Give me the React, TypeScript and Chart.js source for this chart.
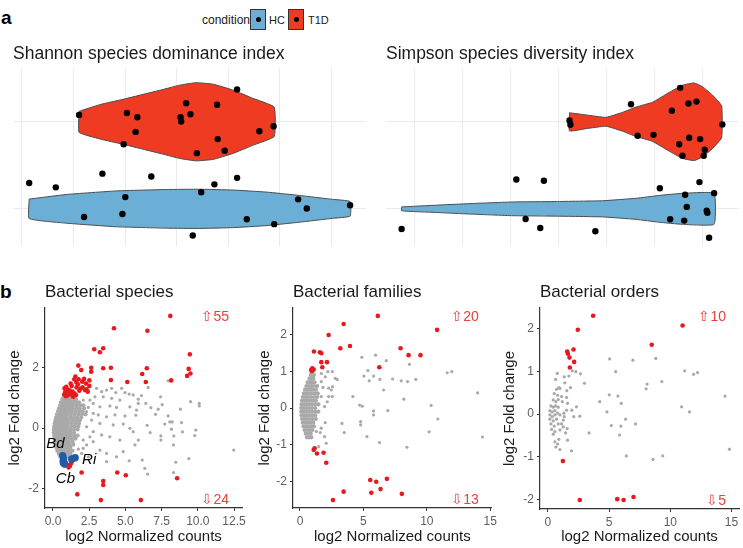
import React, { useEffect, useRef } from 'react';
import { Chart, registerables } from 'chart.js';

Chart.register(...registerables);

const FONT = "'Liberation Sans', Arial, Helvetica, sans-serif";
const TXT = '#1A1A1A';
const TICK = '#5E5E5E';
const VRED = '#EE3B22';
const VBLUE = '#6BAED6';
const PRED = '#E8191E';
const PGRAY = '#A9A9A9';
const PBLUE = '#1F5CA8';
const ANNOT = '#E8413C';

// ---------- panel a : legend / categories ----------
const conditions = ['HC', 'T1D'];
const conditionLevels = [1, 2];

// ---------- Shannon ----------
const shannonGrid = [1, 1.25, 1.5, 1.75, 2, 2.25, 2.5];
const shannonT1DViolinX = [1.277, 1.377, 1.49, 1.587, 1.683, 1.764, 1.845, 1.925, 2.022, 2.119, 2.223];
const shannonT1DViolinHalf = [0.121, 0.197, 0.258, 0.315, 0.371, 0.421, 0.449, 0.433, 0.365, 0.27, 0.169];
const shannonHCViolinX = [1.035, 1.216, 1.458, 1.7, 1.861, 2.022, 2.183, 2.344, 2.505, 2.591];
const shannonHCViolinHalf = [0.112, 0.165, 0.206, 0.222, 0.225, 0.216, 0.193, 0.154, 0.109, 0.084];
const shannonT1DPoints = [
  [2.043, 2.371], [1.796, 2.213], [1.946, 2.195], [1.277, 2.079], [1.509, 2.101], [1.559, 2.052],
  [1.817, 2.086], [1.769, 2.052], [1.772, 2.004], [1.551, 1.884], [2.22, 1.948], [2.151, 1.891],
  [1.949, 1.801], [1.493, 1.742], [1.848, 1.64], [1.983, 1.667],
];
const shannonHCPoints = [
  [1.035, 1.296], [1.164, 1.247], [1.39, 1.404], [1.627, 1.371], [1.933, 1.281], [2.043, 1.356],
  [1.869, 1.191], [1.501, 1.135], [2.339, 1.109], [2.381, 1.004], [2.591, 1.041], [1.301, 0.906],
  [1.487, 0.94], [2.09, 0.88], [2.223, 0.824], [1.828, 0.693],
];

// ---------- Simpson ----------
const simpsonGrid = [0.6, 0.65, 0.7, 0.75, 0.8, 0.85, 0.9];
const simpsonT1DViolinX = [0.7613, 0.7786, 0.7994, 0.8168, 0.8307, 0.848, 0.8653, 0.8792, 0.8914, 0.9, 0.9104, 0.9201];
const simpsonT1DViolinHalf = [0.104, 0.079, 0.051, 0.109, 0.169, 0.225, 0.337, 0.421, 0.446, 0.404, 0.309, 0.183];
const simpsonHCViolinX = [0.5861, 0.6225, 0.6572, 0.7023, 0.7474, 0.796, 0.8307, 0.8549, 0.8792, 0.9122];
const simpsonHCViolinHalf = [0.022, 0.042, 0.06, 0.079, 0.084, 0.093, 0.121, 0.154, 0.178, 0.178];
const simpsonT1DPoints = [
  [0.8768, 2.39], [0.8255, 2.202], [0.8855, 2.21], [0.8938, 2.232], [0.8681, 2.127], [0.7613, 2.015],
  [0.7623, 1.966], [0.9208, 1.97], [0.8324, 1.839], [0.849, 1.85], [0.8862, 1.816], [0.8976, 1.801],
  [0.8758, 1.742], [0.9025, 1.678], [0.8792, 1.61], [0.9014, 1.61],
];
const simpsonHCPoints = [
  [0.7058, 1.337], [0.7346, 1.322], [0.8556, 1.236], [0.8969, 1.307], [0.882, 1.161], [0.9122, 1.18],
  [0.8837, 1.022], [0.9045, 0.978], [0.9052, 0.955], [0.8664, 0.88], [0.881, 0.865], [0.7155, 0.884],
  [0.7308, 0.779], [0.7883, 0.742], [0.5861, 0.768], [0.907, 0.667],
];

// ---------- panel b : species ----------
const speciesXTicks = [0, 2.5, 5, 7.5, 10, 12.5];
const speciesXTickLabels = ['0.0', '2.5', '5.0', '7.5', '10.0', '12.5'];
const speciesYTicks = [-2, 0, 2];
const speciesYTickLabels = ['-2', '0', '2'];
const speciesRedUp = [
  [8.1, 3.7], [4.21, 3.29], [6.52, 3.21], [2.85, 2.6], [3.24, 2.5], [3.47, 2.63], [9.45, 2.43], [1.75, 2.06],
  [1.95, 1.91], [2.64, 1.99], [2.64, 1.86], [3.47, 1.97], [4.0, 1.99], [4.0, 1.58], [5.13, 1.52], [6.48, 1.97],
  [9.37, 1.95], [9.49, 1.8], [9.26, 1.72], [6.16, 1.78], [6.41, 1.52], [8.16, 1.57], [1.47, 1.61], [1.77, 1.61],
  [2.02, 1.53], [2.51, 1.57], [0.8, 1.31], [0.99, 1.28], [1.29, 1.39], [1.63, 1.34], [2.05, 1.34], [2.21, 1.25],
  [2.51, 1.39], [0.85, 1.2], [1.08, 1.17], [1.49, 1.14], [1.82, 1.23], [2.32, 1.28], [0.78, 1.11], [1.4, 1.03],
  [1.59, 1.09], [0.92, 1.36], [1.15, 1.24], [1.35, 1.2], [1.72, 1.44], [2.28, 1.47], [1.02, 1.08], [1.22, 1.47],
  [1.9, 1.3], [2.4, 1.2], [1.6, 1.52], [0.9, 1.05], [1.3, 1.1], [2.15, 1.62], [1.55, 1.7],
];
const speciesRedDown = [
  [1.24, -1.17], [1.17, -1.25], [1.33, -1.06], [1.08, -1.3], [1.98, -1.47], [4.44, -1.47], [5.03, -1.56],
  [3.47, -1.75], [3.47, -1.88], [1.68, -2.19], [3.31, -2.38], [8.57, -1.66], [6.07, -2.38], [0.7, -1.0],
  [0.75, -1.12], [0.8, -1.2], [1.45, -1.02], [1.3, -1.1], [0.68, -0.95], [0.9, -1.15], [1.5, -0.98],
  [0.72, -1.18], [1.38, -1.05], [1.0, -1.22],
];
const speciesBlue = [
  [0.67, -0.91], [0.74, -1.02], [0.71, -1.15], [0.8, -1.2], [0.7, -1.08], [1.4, -1.0], [1.54, -0.98], [1.29, -1.03],
];
const speciesGray = [
  [6.57, 1.34], [7.95, 1.56], [6.11, 1.07], [7.43, 1.03], [5.89, 0.81], [6.41, 0.81], [6.76, 0.67], [7.26, 0.62],
  [7.54, 0.77], [8.8, 0.62], [9.5, 0.87], [10.1, 0.81], [10.1, 0.73], [5.72, 0.42], [7.08, 0.45], [7.95, 0.4],
  [6.5, 0.09], [7.72, 0.13], [8.07, 0.2], [8.23, 0.2], [8.18, -0.04], [8.87, 0.18], [6.71, -0.15], [7.45, -0.26],
  [7.45, -0.4], [8.34, -0.26], [8.94, -0.13], [9.86, -0.07], [9.79, -0.25], [5.66, -0.56], [8.32, -0.56],
  [12.48, -0.73], [6.16, -1.06], [8.48, -1.13], [9.38, -1.01], [6.34, -1.33], [6.53, -1.52], [8.32, -1.47],
  [3.01, 1.31], [3.36, 1.2], [3.7, 1.25], [4.05, 1.31], [4.74, 1.31], [4.34, 1.17], [4.97, 1.17], [5.26, 1.12],
  [5.54, 1.09], [2.9, 1.03], [3.47, 1.03], [4.05, 0.98], [4.62, 0.92], [5.89, 0.95], [2.55, 0.92], [2.09, 0.92],
  [2.78, 0.81], [3.24, 0.7], [3.93, 0.73], [4.39, 0.68], [5.31, 0.7], [5.77, 0.59], [2.44, 0.68], [2.32, 0.54],
  [2.78, 0.48], [3.13, 0.43], [3.7, 0.37], [4.28, 0.43], [4.97, 0.4], [2.67, 0.26], [3.24, 0.15], [4.16, 0.1],
  [4.85, 0.13], [2.32, 0.04], [2.78, -0.12], [5.31, -0.01], [3.36, -0.23], [3.93, -0.29], [2.55, -0.29],
  [2.09, -0.4], [2.32, -0.56], [2.78, -0.45], [4.62, -0.4], [5.54, -0.12], [5.89, -0.4], [2.09, -0.67],
  [3.24, -0.73], [3.7, -0.84], [4.39, -0.95], [4.85, -0.78], [5.26, -1.08], [2.44, -0.95], [3.7, -1.11],
  [1.98, -0.84], [1.75, -0.7],
];
const speciesCloudY = [1.15, 1.05, 0.95, 0.85, 0.75, 0.65, 0.55, 0.45, 0.35, 0.25, 0.15, 0.05, -0.05, -0.15, -0.25, -0.35, -0.45, -0.55, -0.65, -0.75, -0.85, -0.95];
const speciesCloudX = [
  [0.85, 1.0, 1.15],
  [0.75, 0.9, 1.05, 1.2, 1.35],
  [0.65, 0.8, 0.95, 1.1, 1.25, 1.45, 1.6],
  [0.55, 0.7, 0.85, 1.0, 1.2, 1.4, 1.6, 1.8],
  [0.5, 0.65, 0.8, 1.0, 1.2, 1.4, 1.65, 1.9, 2.1],
  [0.42, 0.58, 0.75, 0.95, 1.15, 1.35, 1.6, 1.85, 2.15],
  [0.35, 0.5, 0.68, 0.88, 1.1, 1.3, 1.55, 1.8, 2.05],
  [0.28, 0.45, 0.62, 0.82, 1.02, 1.25, 1.5, 1.75, 2.0, 2.25],
  [0.22, 0.38, 0.55, 0.75, 0.95, 1.2, 1.45, 1.7, 1.95],
  [0.17, 0.32, 0.5, 0.7, 0.9, 1.1, 1.35, 1.6, 1.85],
  [0.12, 0.28, 0.45, 0.65, 0.85, 1.05, 1.3, 1.55, 1.8],
  [0.08, 0.25, 0.42, 0.6, 0.8, 1.0, 1.25, 1.5, 1.75],
  [0.06, 0.22, 0.4, 0.58, 0.78, 0.98, 1.2, 1.45, 1.7],
  [0.06, 0.22, 0.4, 0.58, 0.78, 1.0, 1.22, 1.45],
  [0.08, 0.25, 0.42, 0.6, 0.8, 1.0, 1.2, 1.45, 1.7],
  [0.1, 0.28, 0.45, 0.65, 0.85, 1.05, 1.3, 1.55],
  [0.14, 0.3, 0.5, 0.7, 0.9, 1.1, 1.35],
  [0.18, 0.35, 0.55, 0.75, 0.95, 1.15, 1.4],
  [0.24, 0.42, 0.6, 0.8, 1.0, 1.2],
  [0.3, 0.5, 0.7, 0.9, 1.1, 1.35],
  [0.4, 0.58, 0.78, 0.98, 1.2],
  [0.5, 0.7, 0.9, 1.1],
];
const speciesLabelText = ['Bd', 'Cb', 'Ri'];
const speciesLabelX = [0.17, 0.86, 2.5];
const speciesLabelY = [-0.53, -1.68, -1.06];

// ---------- panel b : families ----------
const familyXTicks = [0, 5, 10, 15];
const familyXTickLabels = ['0', '5', '10', '15'];
const familyYTicks = [-2, -1, 0, 1, 2];
const familyYTickLabels = ['-2', '-1', '0', '1', '2'];
const familyRed = [
  [6.14, 2.51], [3.44, 2.29], [2.26, 1.99], [3.18, 1.63], [3.94, 1.69], [1.1, 1.54], [1.57, 1.52], [1.68, 1.49],
  [1.68, 1.25], [2.13, 1.25], [1.76, 1.11], [0.97, 1.08], [1.08, 1.05], [0.89, 1.04], [0.94, 1.01], [6.25, 1.11],
  [10.81, 2.13], [7.93, 1.63], [8.56, 1.44], [9.5, 1.44],
  [1.15, -1.1], [1.08, -1.14], [1.34, -1.24], [1.86, -1.22], [2.07, -1.49], [2.6, -2.51], [3.44, -2.28],
  [5.54, -1.96], [6.01, -2.01], [6.85, -1.93], [5.62, -2.31], [6.35, -2.21], [8.03, -2.34],
];
const familyGray = [
  [8.63, 1.19], [11.6, 0.96], [11.97, 0.99], [7.3, 0.79], [7.98, 0.74], [8.48, 0.72], [9.13, 0.78], [14.0, 0.41],
  [8.19, 0.24], [10.34, 0.07], [6.93, -0.07], [10.87, -0.3], [10.18, -0.65], [14.38, -0.79], [8.43, -1.07],
  [5.96, 1.44], [4.88, 1.38], [6.8, 1.29], [5.35, 1.02], [5.04, 0.87], [5.8, 0.87], [5.46, 0.74], [6.3, 0.78],
  [6.59, 0.49], [4.17, 0.31], [4.7, 0.08], [4.91, 0.05], [5.8, -0.08], [5.8, -0.19], [4.78, -0.37], [4.78, -0.46],
  [3.31, -0.42], [3.49, -0.67], [5.28, -0.78], [6.27, -0.94], [2.55, 0.99], [2.78, 0.81], [2.94, 0.78],
  [2.57, 0.58], [2.26, 0.54], [2.26, 0.31], [2.55, 0.31], [1.68, 0.72], [1.99, 0.85], [2.2, 0.99], [1.68, 0.94],
  [2.15, 0.17], [1.94, 0.04], [1.68, 0.31], [1.99, -0.4], [1.68, -0.55], [1.6, -0.67], [1.94, -0.78],
  [2.07, -0.96], [1.47, -1.05], [1.29, -0.64], [2.47, 0.49], [1.81, 0.56],
];
const familyCloudY = [1.0, 0.9, 0.8, 0.7, 0.6, 0.5, 0.4, 0.3, 0.2, 0.1, 0.0, -0.1, -0.2, -0.3, -0.4, -0.5, -0.6, -0.7, -0.8];
const familyCloudX = [
  [0.9, 1.0],
  [0.85, 0.98, 1.1],
  [0.75, 0.9, 1.05],
  [0.6, 0.78, 0.95, 1.15],
  [0.5, 0.7, 0.9, 1.1, 1.35],
  [0.4, 0.6, 0.8, 1.0, 1.25],
  [0.3, 0.5, 0.7, 0.9, 1.15, 1.4],
  [0.22, 0.42, 0.62, 0.85, 1.1, 1.35],
  [0.16, 0.36, 0.56, 0.78, 1.0, 1.25],
  [0.12, 0.32, 0.52, 0.74, 0.96, 1.2, 1.45],
  [0.1, 0.3, 0.5, 0.72, 0.95, 1.2],
  [0.1, 0.3, 0.5, 0.72, 0.95, 1.2, 1.45],
  [0.12, 0.32, 0.52, 0.74, 0.96, 1.2],
  [0.16, 0.36, 0.56, 0.78, 1.0, 1.25],
  [0.22, 0.42, 0.62, 0.84, 1.05],
  [0.28, 0.48, 0.68, 0.9, 1.1],
  [0.36, 0.56, 0.76, 0.98],
  [0.45, 0.65, 0.85],
  [0.55, 0.72, 0.9],
];

// ---------- panel b : orders ----------
const orderXTicks = [0, 5, 10, 15];
const orderXTickLabels = ['0', '5', '10', '15'];
const orderYTicks = [-2, -1, 0, 1, 2];
const orderYTickLabels = ['-2', '-1', '0', '1', '2'];
const orderRed = [
  [3.69, 2.3], [2.44, 1.97], [2.09, 1.51], [1.57, 1.46], [1.63, 1.41], [1.76, 1.32], [2.14, 1.22], [1.79, 1.09],
  [11.0, 2.07], [8.48, 1.62],
  [1.22, -1.1], [2.6, -2.01], [5.66, -1.99], [6.18, -2.01], [6.99, -1.94],
];
const orderGray = [
  [6.94, 1.26], [8.81, 1.3], [11.17, 1.01], [11.9, 0.93], [12.22, 0.97], [8.1, 0.7], [8.02, 0.59], [9.3, 0.76],
  [14.47, 0.42], [10.92, 0.17], [11.57, 0.05], [7.15, -0.23], [14.83, -0.82], [9.38, -0.98], [8.59, -1.06],
  [5.04, 1.29], [5.53, 0.99], [4.23, 0.29], [5.01, 0.45], [5.72, 0.42], [5.99, 0.25], [4.82, 0.05], [5.18, -0.27],
  [5.96, -0.28], [6.34, -0.12], [5.85, -0.49], [6.4, -0.98], [3.36, -0.44], [2.98, 0.72], [2.66, 0.94],
  [2.28, 0.99], [2.33, 0.17], [2.6, -0.05], [2.11, -0.06], [1.95, 0.09], [1.57, -0.34], [1.6, -0.61],
  [1.92, -0.86], [1.54, 0.55], [1.52, 0.39], [1.84, 0.62], [1.38, 0.73], [1.33, 0.87], [1.71, 0.89], [1.98, 1.01],
  [1.3, 0.02], [1.25, -0.14], [1.11, -0.23],
  [0.76, 0.95], [0.62, 0.81], [0.89, 0.62], [0.7, 0.58], [0.98, 0.6], [0.51, 0.48], [0.79, 0.44], [1.11, 0.41],
  [0.43, 0.33], [0.65, 0.29], [0.84, 0.34], [1.17, 0.29], [0.24, 0.19], [0.43, 0.16], [0.62, 0.19], [0.84, 0.16],
  [0.16, 0.08], [0.35, 0.05], [0.57, 0.08], [0.79, 0.02], [0.16, -0.02], [0.35, -0.06], [0.57, -0.02], [0.98, -0.02],
  [0.16, -0.12], [0.43, -0.16], [0.7, -0.12], [0.24, -0.23], [0.51, -0.28], [0.84, -0.23], [1.25, -0.3],
  [0.3, -0.36], [0.57, -0.41], [0.98, -0.37], [0.43, -0.47], [1.44, -0.44], [0.57, -0.65], [0.79, -0.7],
  [0.65, -0.77], [0.98, -0.83], [0.89, -0.59], [1.33, -0.06], [1.52, 0.09], [1.6, 0.25],
];

// ---------- helpers ----------
const toPts = (arr: number[][]) => arr.map(([x, y]) => ({ x, y }));
const rowsToPts = (ys: number[], xs: number[][]) => ys.flatMap((y, i) => xs[i].map((x) => ({ x, y })));
function violinPolygon(xs: number[], half: number[], center: number) {
  const top = xs.map((x, i) => ({ x, y: center + half[i] }));
  const bottom = xs.map((x, i) => ({ x, y: center - half[i] })).reverse();
  const pts = [...top, ...bottom];
  pts.push(pts[0]);
  return pts;
}

const annotPlugin = {
  id: 'annot',
  afterDatasetsDraw(chart: any, _args: any, opts: any) {
    const { ctx, chartArea, scales } = chart;
    ctx.save();
    ctx.textBaseline = 'middle';
    if (opts.up) {
      ctx.font = `14px ${FONT}`;
      ctx.fillStyle = ANNOT;
      ctx.textAlign = 'right';
      ctx.fillText(opts.up, chartArea.right - 13, chartArea.top + 9);
      ctx.fillText(opts.down, chartArea.right - 13, chartArea.bottom - 8);
    }
    if (opts.labels) {
      ctx.font = `italic 15px ${FONT}`;
      ctx.fillStyle = '#000';
      ctx.textAlign = 'center';
      opts.labels.text.forEach((t: string, i: number) => {
        ctx.fillText(t, scales.x.getPixelForValue(opts.labels.x[i]), scales.y.getPixelForValue(opts.labels.y[i]));
      });
    }
    ctx.restore();
  },
};

function violinConfig(p: any) {
  return {
    type: 'line',
    data: {
      datasets: [
        { data: toPts(p.t1dPts), showLine: false, pointRadius: 3.2, pointBackgroundColor: '#000', pointBorderWidth: 0, order: 0 },
        { data: toPts(p.hcPts), showLine: false, pointRadius: 3.2, pointBackgroundColor: '#000', pointBorderWidth: 0, order: 0 },
        { data: violinPolygon(p.t1dVX, p.t1dVH, conditionLevels[1]), showLine: true, fill: 'shape', backgroundColor: VRED, borderColor: '#4D4D4D', borderWidth: 1, pointRadius: 0, tension: 0.12, order: 1 },
        { data: violinPolygon(p.hcVX, p.hcVH, conditionLevels[0]), showLine: true, fill: 'shape', backgroundColor: VBLUE, borderColor: '#4D4D4D', borderWidth: 1, pointRadius: 0, tension: 0.12, order: 1 },
      ],
    },
    options: {
      responsive: false, animation: false, devicePixelRatio: 1, events: [],
      layout: { padding: { left: p.padLeft, right: p.padRight, top: 0, bottom: 0 } },
      plugins: {
        legend: { display: false }, tooltip: { enabled: false },
        title: { display: true, text: p.title, align: 'start', fullSize: false, color: TXT, font: { family: FONT, size: 17.5, weight: 'normal', lineHeight: 1.2 }, padding: { top: 3.5, bottom: 3.5 } },
      },
      scales: {
        x: {
          type: 'linear', min: p.xMin, max: p.xMax,
          afterBuildTicks: (s: any) => { s.ticks = p.grid.map((v: number) => ({ value: v })); },
          ticks: { display: false }, grid: { color: '#EBEBEB', lineWidth: 1, drawTicks: false }, border: { display: false },
          afterFit: (s: any) => { s.height = 0; },
        },
        y: {
          type: 'linear', min: 0.573, max: 2.618,
          afterBuildTicks: (s: any) => { s.ticks = conditionLevels.map((v) => ({ value: v })); },
          ticks: { display: false }, grid: { color: '#EBEBEB', lineWidth: 1, drawTicks: false }, border: { display: false },
          afterFit: (s: any) => { s.width = 0; },
        },
      },
    },
  };
}

function scatterConfig(p: any) {
  const datasets: any[] = [];
  if (p.blue) datasets.push({ data: toPts(p.blue), pointRadius: 3.6, pointBackgroundColor: PBLUE, pointBorderWidth: 0, order: 0 });
  datasets.push({ data: p.red, pointRadius: 2.3, pointBackgroundColor: PRED, pointBorderWidth: 0, order: 1 });
  datasets.push({ data: p.gray, pointRadius: 1.6, pointBackgroundColor: PGRAY, pointBorderWidth: 0, order: 2 });
  datasets.push({ data: p.cloud, pointRadius: 2.1, pointBackgroundColor: PGRAY, pointBorderWidth: 0, order: 3 });
  return {
    type: 'scatter',
    data: { datasets },
    plugins: [annotPlugin],
    options: {
      responsive: false, animation: false, devicePixelRatio: 1, events: [],
      layout: { padding: { left: 0, right: p.padRight, top: 0, bottom: 0 } },
      plugins: {
        legend: { display: false }, tooltip: { enabled: false },
        title: { display: true, text: p.title, align: 'start', fullSize: false, color: TXT, font: { family: FONT, size: 17, weight: 'normal', lineHeight: 1.2 }, padding: { top: 1.8, bottom: 5.8 } },
        annot: { up: p.up, down: p.down, labels: p.labels },
      },
      scales: {
        x: {
          type: 'linear', min: p.xMin, max: p.xMax,
          afterBuildTicks: (s: any) => { s.ticks = p.xTicks.map((v: number) => ({ value: v })); },
          ticks: { color: TICK, font: { family: FONT, size: 12 }, padding: 3, maxRotation: 0, autoSkip: false, callback: (_v: any, i: number) => p.xLabels[i] },
          grid: { drawOnChartArea: false, drawTicks: true, tickLength: 3, color: '#333', lineWidth: 1 },
          border: { display: true, color: '#333', width: 1.2 },
          title: { display: true, text: 'log2 Normalized counts', color: TXT, font: { family: FONT, size: 15, lineHeight: 1.2 }, padding: { top: 0, bottom: 2 } },
          afterFit: (s: any) => { s.height = p.xH; },
        },
        y: {
          type: 'linear', min: p.yMin, max: p.yMax,
          afterBuildTicks: (s: any) => { s.ticks = p.yTicks.map((v: number) => ({ value: v })); },
          ticks: { color: TICK, font: { family: FONT, size: 12 }, padding: 3, autoSkip: false, callback: (_v: any, i: number) => p.yLabels[i] },
          grid: { drawOnChartArea: false, drawTicks: true, tickLength: 3, color: '#333', lineWidth: 1 },
          border: { display: true, color: '#333', width: 1.2 },
          title: { display: true, text: 'log2 Fold change', color: TXT, font: { family: FONT, size: 15, lineHeight: 1.2 }, padding: { top: 6, bottom: 0 } },
          afterFit: (s: any) => { s.width = p.yW; },
        },
      },
    },
  };
}

function ChartBox({ make, left, top, width, height }: any) {
  const ref = useRef<HTMLCanvasElement | null>(null);
  useEffect(() => {
    const chart = new Chart(ref.current as HTMLCanvasElement, make() as any);
    return () => chart.destroy();
  }, []);
  return (
    <canvas ref={ref} width={width} height={height}
      style={{ position: 'absolute', left, top, width, height, display: 'block' }} />
  );
}

const shannonMake = () => violinConfig({
  title: 'Shannon species dominance index', xMin: 0.9565, xMax: 2.668, grid: shannonGrid, padLeft: 13, padRight: 3,
  t1dPts: shannonT1DPoints, hcPts: shannonHCPoints,
  t1dVX: shannonT1DViolinX, t1dVH: shannonT1DViolinHalf, hcVX: shannonHCViolinX, hcVH: shannonHCViolinHalf,
});
const simpsonMake = () => violinConfig({
  title: 'Simpson species diversity index', xMin: 0.5698, xMax: 0.9382, grid: simpsonGrid, padLeft: 16, padRight: 3,
  t1dPts: simpsonT1DPoints, hcPts: simpsonHCPoints,
  t1dVX: simpsonT1DViolinX, t1dVH: simpsonT1DViolinHalf, hcVX: simpsonHCViolinX, hcVH: simpsonHCViolinHalf,
});
const speciesMake = () => scatterConfig({
  title: 'Bacterial species', xMin: -0.55, xMax: 13.05, yMin: -2.64, yMax: 3.96,
  xTicks: speciesXTicks, xLabels: speciesXTickLabels, yTicks: speciesYTicks, yLabels: speciesYTickLabels,
  red: toPts([...speciesRedUp, ...speciesRedDown]),
  gray: toPts(speciesGray), cloud: rowsToPts(speciesCloudY, speciesCloudX),
  blue: speciesBlue, up: '\u21E7' + speciesRedUp.length, down: '\u21E9' + speciesRedDown.length,
  labels: { text: speciesLabelText, x: speciesLabelX, y: speciesLabelY },
  yW: 45, xH: 40, padRight: 8,
});
const familyMake = () => scatterConfig({
  title: 'Bacterial families', xMin: -0.55, xMax: 15.12, yMin: -2.725, yMax: 2.725,
  xTicks: familyXTicks, xLabels: familyXTickLabels, yTicks: familyYTicks, yLabels: familyYTickLabels,
  red: toPts(familyRed),
  gray: toPts(familyGray), cloud: rowsToPts(familyCloudY, familyCloudX),
  up: '\u21E7' + familyRed.filter((d) => d[1] > 0).length, down: '\u21E9' + familyRed.filter((d) => d[1] < 0).length,
  yW: 43, xH: 40, padRight: 8,
});
const orderMake = () => scatterConfig({
  title: 'Bacterial orders', xMin: -0.65, xMax: 15.61, yMin: -2.22, yMax: 2.48,
  xTicks: orderXTicks, xLabels: orderXTickLabels, yTicks: orderYTicks, yLabels: orderYTickLabels,
  red: toPts(orderRed), gray: toPts(orderGray), cloud: [],
  up: '\u21E7' + orderRed.filter((d) => d[1] > 0).length, down: '\u21E9' + orderRed.filter((d) => d[1] < 0).length,
  yW: 45, xH: 39, padRight: 3,
});

function LegendKey({ left, color }: any) {
  return (
    <div style={{ position: 'absolute', left, top: 9, width: 14, height: 19, background: color, border: '1px solid #333' }}>
      <div style={{ position: 'absolute', left: 4.5, top: 7, width: 5, height: 5, borderRadius: '50%', background: '#000' }} />
    </div>
  );
}

export default function App() {
  return (
    <div style={{ position: 'absolute', left: 0, top: 0, width: 743, height: 548, background: '#fff', fontFamily: FONT, overflow: 'hidden' }}>
      <div style={{ position: 'absolute', left: 1, top: 8, fontSize: 19, fontWeight: 'bold', lineHeight: 1, color: '#000' }}>a</div>
      <div style={{ position: 'absolute', left: 0, top: 282, fontSize: 19, fontWeight: 'bold', lineHeight: 1, color: '#000' }}>b</div>
      <div style={{ position: 'absolute', left: 202, top: 14, fontSize: 12, lineHeight: 1, color: TXT }}>condition</div>
      <LegendKey left={250} color={VBLUE} />
      <div style={{ position: 'absolute', left: 269, top: 14.5, fontSize: 11, lineHeight: 1, color: TXT }}>{conditions[0]}</div>
      <LegendKey left={288} color={VRED} />
      <div style={{ position: 'absolute', left: 308, top: 14.5, fontSize: 11, lineHeight: 1, color: TXT }}>{conditions[1]}</div>
      <ChartBox make={shannonMake} left={0} top={40} width={370} height={210} />
      <ChartBox make={simpsonMake} left={370} top={40} width={373} height={210} />
      <ChartBox make={speciesMake} left={0} top={280} width={250} height={268} />
      <ChartBox make={familyMake} left={250} top={280} width={250} height={268} />
      <ChartBox make={orderMake} left={495} top={280} width={248} height={268} />
    </div>
  );
}
